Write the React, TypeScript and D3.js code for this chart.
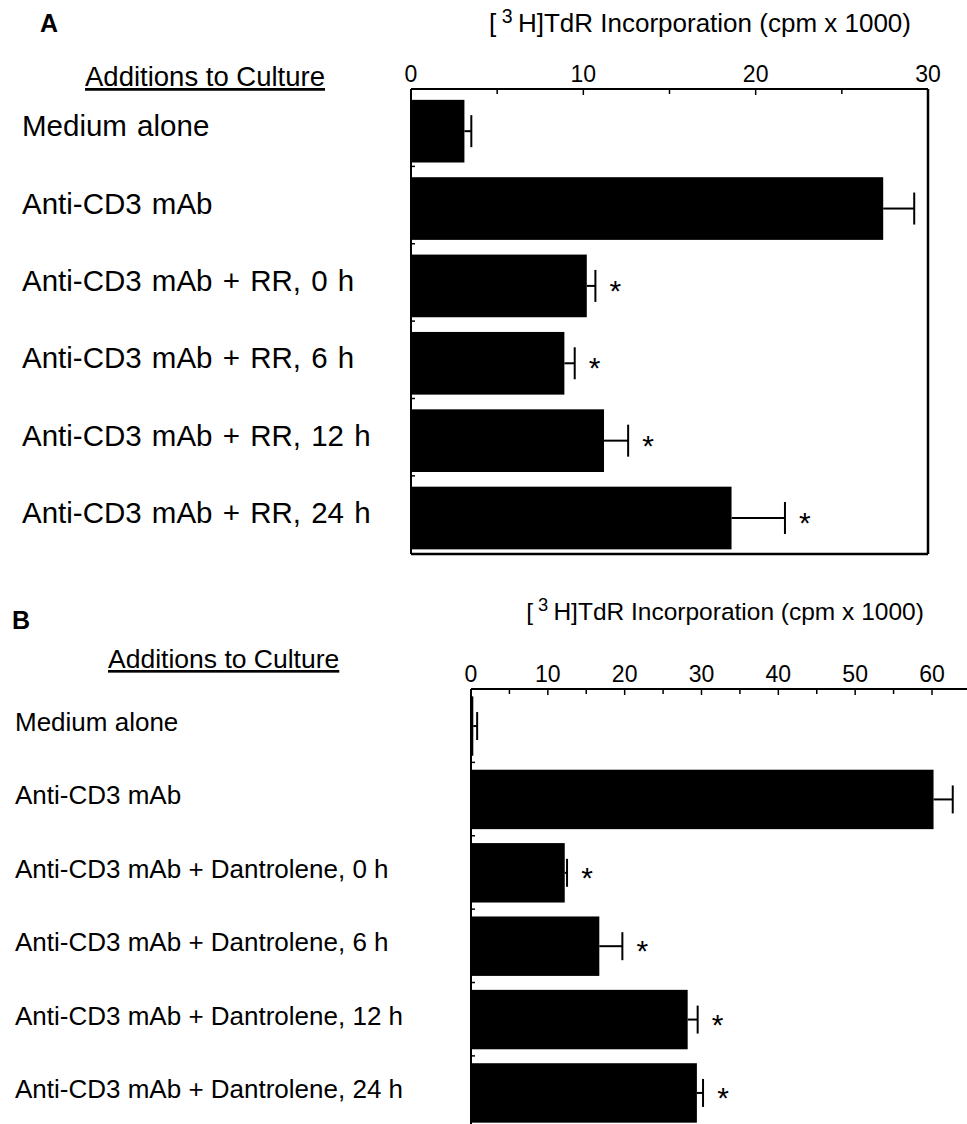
import React from 'react';
import * as d3 from 'd3';

// Panel A: RR
const labelsA = [
  'Medium alone',
  'Anti-CD3 mAb',
  'Anti-CD3 mAb + RR, 0 h',
  'Anti-CD3 mAb + RR, 6 h',
  'Anti-CD3 mAb + RR, 12 h',
  'Anti-CD3 mAb + RR, 24 h',
];
const meansA = [3.1, 27.4, 10.2, 8.9, 11.2, 18.6];
const errsA = [0.4, 1.8, 0.5, 0.6, 1.4, 3.1];
const starsA = [false, false, true, true, true, true];
const majorTicksA = [0, 10, 20, 30];
const minorTicksA = [5, 15, 25];

// Panel B: Dantrolene
const labelsB = [
  'Medium alone',
  'Anti-CD3 mAb',
  'Anti-CD3 mAb + Dantrolene, 0 h',
  'Anti-CD3 mAb + Dantrolene, 6 h',
  'Anti-CD3 mAb + Dantrolene, 12 h',
  'Anti-CD3 mAb + Dantrolene, 24 h',
];
const meansB = [0.3, 60.2, 12.2, 16.7, 28.2, 29.4];
const errsB = [0.5, 2.5, 0.3, 3.0, 1.3, 0.8];
const starsB = [false, false, true, true, true, true];
const majorTicksB = [0, 10, 20, 30, 40, 50, 60];
const minorTicksB = [5, 15, 25, 35, 45, 55, 65];

const FONT = 'Liberation Sans, Arial, Helvetica, sans-serif';

type PanelProps = {
  letter: string;
  letterX: number;
  letterY: number;
  labels: string[];
  means: number[];
  errs: number[];
  stars: boolean[];
  majors: number[];
  minors: number[];
  domain: [number, number];
  xRange: [number, number];
  yRange: [number, number];
  axisEnd: number;
  boxed: boolean;
  labelX: number;
  labelSize: number;
  wordSpacing: number;
  headX: number;
  headY: number;
  headSize: number;
  titleX: number;
  titleY: number;
  titleSize: number;
  capH: number;
};

const Panel = (p: PanelProps) => {
  const x = d3.scaleLinear().domain(p.domain).range(p.xRange);
  const y = d3
    .scaleBand<string>()
    .domain(p.labels)
    .range(p.yRange)
    .paddingInner(0.19)
    .paddingOuter(0.1)
    .align(p.boxed ? 0.7 : 0.5);
  const x0 = p.xRange[0];
  const top = p.yRange[0];
  const bottom = p.yRange[1];
  const step = y.step();
  const boundaries = d3.range(1, p.labels.length).map((i) => top + i * step);

  return (
    <g fontFamily={FONT} fill="#000">
      <text x={p.letterX} y={p.letterY} fontSize={25} fontWeight="bold">
        {p.letter}
      </text>
      <text x={p.titleX} y={p.titleY} fontSize={p.titleSize} textAnchor="middle">
        [<tspan dy={-9} fontSize={p.titleSize * 0.75}> 3 </tspan>
        <tspan dy={9}>H]TdR Incorporation (cpm x 1000)</tspan>
      </text>
      <text x={p.headX} y={p.headY} fontSize={p.headSize} textDecoration="underline">
        Additions to Culture
      </text>

      {/* tick labels */}
      {p.majors.map((t) => (
        <text key={t} x={x(t)} y={top - 7} fontSize={23} textAnchor="middle">
          {t}
        </text>
      ))}

      {/* bars */}
      {p.labels.map((l, i) => {
        const yc = (y(l) as number) + y.bandwidth() / 2;
        const xe = x(p.means[i] + p.errs[i]);
        return (
          <g key={l}>
            <rect
              x={x0}
              y={y(l)}
              width={Math.max(x(p.means[i]) - x0, 2)}
              height={y.bandwidth()}
              fill="#000"
            />
            <line x1={x(p.means[i])} x2={xe} y1={yc} y2={yc} stroke="#000" strokeWidth={2} />
            <line x1={xe} x2={xe} y1={yc - p.capH / 2} y2={yc + p.capH / 2} stroke="#000" strokeWidth={2} />
            {p.stars[i] && (
              <text x={xe + 20} y={yc + 15} fontSize={30} textAnchor="middle">
                *
              </text>
            )}
            <text x={p.labelX} y={yc + 5} fontSize={p.labelSize} wordSpacing={p.wordSpacing}>
              {l}
            </text>
          </g>
        );
      })}

      {/* axes */}
      <line x1={x0} x2={p.axisEnd} y1={top} y2={top} stroke="#000" strokeWidth={2} />
      <line x1={x0} x2={x0} y1={top} y2={bottom} stroke="#000" strokeWidth={2} />
      {p.boxed && (
        <>
          <line x1={p.axisEnd} x2={p.axisEnd} y1={top} y2={bottom} stroke="#000" strokeWidth={2.5} />
          <line x1={x0} x2={p.axisEnd} y1={bottom} y2={bottom} stroke="#000" strokeWidth={2.5} />
        </>
      )}
      {p.majors.map((t) => (
        <line key={'M' + t} x1={x(t)} x2={x(t)} y1={top} y2={top + 6} stroke="#000" strokeWidth={1.5} />
      ))}
      {p.minors
        .filter((t) => x(t) < p.axisEnd)
        .map((t) => (
          <line key={'m' + t} x1={x(t)} x2={x(t)} y1={top} y2={top + 5} stroke="#000" strokeWidth={1.5} />
        ))}
      {boundaries.map((b) => (
        <line key={'b' + b} x1={x0} x2={x0 + 4} y1={b} y2={b} stroke="#000" strokeWidth={1.5} />
      ))}
    </g>
  );
};

const App = () => {
  return (
    <svg
      width={967}
      height={1124}
      style={{ position: 'absolute', left: 0, top: 0, background: '#fff' }}
    >
      <rect width={967} height={1124} fill="#fff" />
      <Panel
        letter="A"
        letterX={40}
        letterY={32}
        labels={labelsA}
        means={meansA}
        errs={errsA}
        stars={starsA}
        majors={majorTicksA}
        minors={minorTicksA}
        domain={[0, 30]}
        xRange={[411, 928]}
        yRange={[89, 554]}
        axisEnd={928}
        boxed={true}
        labelX={22}
        labelSize={29.5}
        wordSpacing={2}
        headX={85}
        headY={86}
        headSize={27.5}
        titleX={700}
        titleY={32}
        titleSize={26}
        capH={32}
      />
      <Panel
        letter="B"
        letterX={12}
        letterY={629}
        labels={labelsB}
        means={meansB}
        errs={errsB}
        stars={starsB}
        majors={majorTicksB}
        minors={minorTicksB}
        domain={[0, 60]}
        xRange={[471, 932]}
        yRange={[689, 1130]}
        axisEnd={967}
        boxed={false}
        labelX={15}
        labelSize={26}
        wordSpacing={0}
        headX={108}
        headY={668}
        headSize={26.5}
        titleX={725}
        titleY={620}
        titleSize={24.5}
        capH={28}
      />
    </svg>
  );
};

export default App;
